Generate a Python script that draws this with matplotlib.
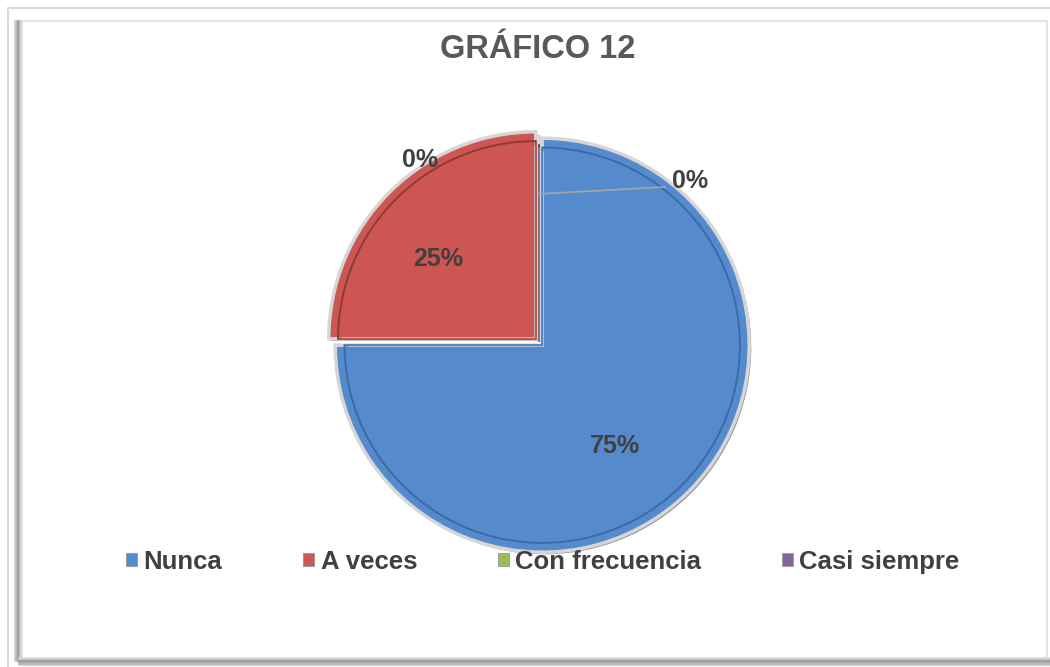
import matplotlib
matplotlib.use("Agg")
import matplotlib.pyplot as plt
from matplotlib.patches import Patch

categories = ["Nunca", "A veces", "Con frecuencia", "Casi siempre"]
values = [75, 25, 0, 0]
title = "GRÁFICO 12"
colors = ["#558BCD", "#CD5552", "#9BBB59", "#8064A2"]
dark = ["#3A6AA8", "#8E3A38", "#6F8A3C", "#5B4778"]

FONT = ["Liberation Sans Narrow", "Liberation Sans", "DejaVu Sans"]
TXT = "#404040"

W, H = 1050, 667
fig = plt.figure(figsize=(W / 100, H / 100), dpi=100)
fig.patch.set_facecolor("white")

# frame
bg = fig.add_axes([0, 0, 1, 1])
bg.set_xlim(0, W)
bg.set_ylim(H, 0)
bg.axis("off")
bg.plot([8, 8, W], [H, 8, 8], color="#d9d9d9", lw=1.5)
for i, c in enumerate(["#c8c8c8", "#b0b0b0", "#a0a0a0", "#b8b8b8", "#d8d8d8"]):
    bg.plot([15 + i * 1.6, 15 + i * 1.6], [21, 660], color=c, lw=1.8)
for i, c in enumerate(["#d8d8d8", "#b8b8b8", "#a0a0a0", "#a8a8a8", "#c0c0c0"]):
    bg.plot([19, W], [658 + i * 1.6, 658 + i * 1.6], color=c, lw=1.8)
bg.plot([24, 1047, 1047], [21, 21, 657], color="#e3e3e3", lw=1.5)

fig.text(538 / W, 1 - 50 / H, title, ha="center", va="center", fontsize=23.5,
         fontweight="bold", color="#595959", family=FONT)

# pie
cx, cy, R = 539, 342, 207
half = 235
ax = fig.add_axes([(cx - half) / W, (H - cy - half) / H, 2 * half / W, 2 * half / H])
ax.axis("off")

explode = [0.022, 0.022, 0, 0]
# soft shadow beneath slices
ws, _ = ax.pie(values, startangle=90, counterclock=False, explode=explode,
               radius=1.0, center=(0.01, -0.01), wedgeprops=dict(linewidth=0))
for w in ws:
    w.set_facecolor("#3a3a3a")
    w.set_alpha(0.55)
ax.pie(values, colors=colors, startangle=90, counterclock=False, explode=explode,
       radius=1.0, wedgeprops=dict(edgecolor="#d6d6d6", linewidth=2.5))
w2, _ = ax.pie(values, startangle=90, counterclock=False, explode=explode,
               radius=0.955, wedgeprops=dict(facecolor="none", linewidth=1.4))
for w, c in zip(w2, dark):
    w.set_facecolor("none")
    w.set_edgecolor(c)
w3, _ = ax.pie(values, startangle=90, counterclock=False, explode=explode,
               radius=0.94, wedgeprops=dict(facecolor="none", linewidth=1.0))
for w, c in zip(w3, colors):
    w.set_facecolor("none")
    w.set_edgecolor(c)

lim = half / R
ax.set_xlim(-lim, lim)
ax.set_ylim(-lim, lim)
ax.set_aspect("equal")

total = sum(values)
pct = [f"{round(v / total * 100)}%" for v in values]
lab_kw = dict(ha="center", va="center", fontsize=18, fontweight="bold", color=TXT, family=FONT)
ax.text(0.367, -0.502, pct[0], **lab_kw)
ax.text(-0.488, 0.40, pct[1], **lab_kw)
ax.text(-0.575, 0.88, pct[2], **lab_kw)
ax.text(0.73, 0.78, pct[3], **lab_kw)
ax.plot([-0.005, 0.61], [0.715, 0.749], color="#a6a6a6", lw=1.2)

handles = [Patch(facecolor=c, edgecolor="#a0a0a0", linewidth=0.8) for c in colors]
leg = fig.legend(handles, categories, loc="center", bbox_to_anchor=(543 / W, 1 - 562 / H),
                 ncol=4, frameon=False, handlelength=0.42, handleheight=0.42,
                 handletextpad=0.25, columnspacing=3.15,
                 prop=dict(family=FONT, weight="bold", size=18.5))
for t in leg.get_texts():
    t.set_color(TXT)

fig.savefig("out.png", dpi=100)
